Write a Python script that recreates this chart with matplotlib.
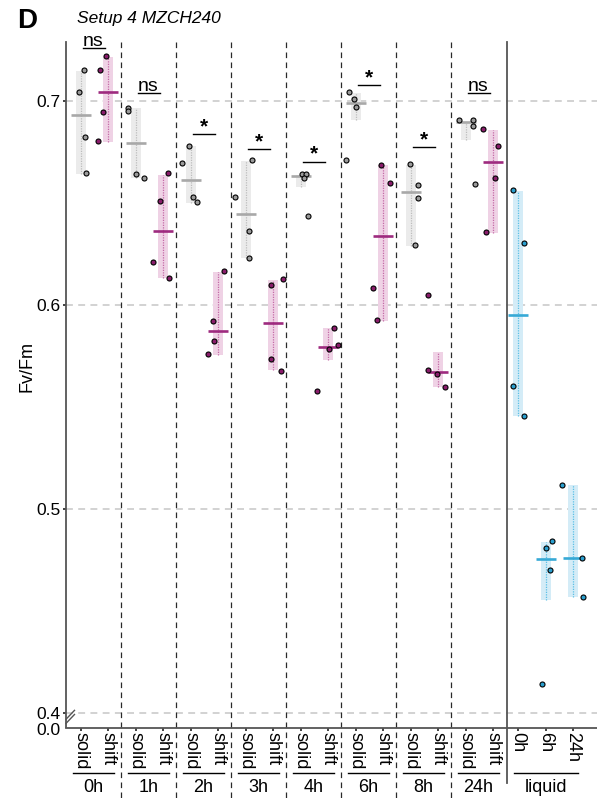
import numpy as np
import matplotlib
matplotlib.use("Agg")
import matplotlib.pyplot as plt
import matplotlib.transforms as mtrans

plt.rcParams["font.family"] = ["Liberation Sans", "DejaVu Sans"]

# data ==========================================================================
conditions = ["0h", "1h", "2h", "3h", "4h", "6h", "8h", "24h"]

solid_pts = [
    [0.7150, 0.7040, 0.6821, 0.6643],
    [0.6965, 0.6949, 0.6638, 0.6619],
    [0.6777, 0.6692, 0.6528, 0.6501],
    [0.6708, 0.6525, 0.6360, 0.6226],
    [0.6640, 0.6640, 0.6619, 0.6435],
    [0.7040, 0.7007, 0.6967, 0.6707],
    [0.6689, 0.6586, 0.6521, 0.6292],
    [0.6904, 0.6904, 0.6876, 0.6591],
]
solid_med = [0.6929, 0.6793, 0.6609, 0.6444, 0.6628, 0.6988, 0.6553, 0.6893]
solid_lo = [0.6640, 0.6619, 0.6498, 0.6226, 0.6575, 0.6904, 0.6287, 0.6806]
solid_hi = [0.7145, 0.6965, 0.6775, 0.6703, 0.6635, 0.7035, 0.6684, 0.6896]

shift_pts = [
    [0.7220, 0.7150, 0.6942, 0.6801],
    [0.6643, 0.6507, 0.6210, 0.6131],
    [0.6166, 0.5919, 0.5821, 0.5757],
    [0.6126, 0.6094, 0.5731, 0.5675],
    [0.5886, 0.5801, 0.5780, 0.5577],
    [0.6684, 0.6597, 0.6079, 0.5924],
    [0.6047, 0.5679, 0.5658, 0.5597],
    [0.6859, 0.6777, 0.6622, 0.6354],
]
shift_med = [0.7043, 0.6360, 0.5870, 0.5909, 0.5790, 0.6337, 0.5668, 0.6700]
shift_lo = [0.6798, 0.6131, 0.5752, 0.5678, 0.5728, 0.5919, 0.5597, 0.6349]
shift_hi = [0.7215, 0.6635, 0.6161, 0.6118, 0.5883, 0.6684, 0.5769, 0.6855]

liquid_times = ["0h", "6h", "24h"]
liquid_pts = [
    [0.6561, 0.6300, 0.5600, 0.5455],
    [0.4842, 0.4805, 0.4699, 0.4138],
    [0.5115, 0.4756, 0.4565],
]
liquid_med = [0.5949, 0.4752, 0.4759]
liquid_lo = [0.5455, 0.4551, 0.4565]
liquid_hi = [0.6556, 0.4837, 0.5115]

sig_labels = ["ns", "ns", "*", "*", "*", "*", "*", "ns"]
sig_y = [0.7257, 0.7037, 0.6834, 0.6762, 0.6700, 0.7076, 0.6771, 0.7035]

# horizontal jitter of the replicate dots (px)
solid_jit = [[3, -2, 4, 5], [-8, -8, 0, 8], [-2, -9, 2, 6], [6, -11, 3, 3],
             [1, 5, 3, 7], [-7, -2, 0, -10], [-1, 7, 7, 4], [-7, 7, 7, 9]]
shift_jit = [[-2, -8, -5, -10], [5, -3, -10, 6], [6, -5, -4, -10], [10, -2, -2, 8],
             [6, 10, 1, -11], [-2, 7, -10, -6], [-10, -10, -1, 7], [-10, 5, 2, -7]]
liquid_jit = [[-5, 6, -5, 6], [6, 0, 4, -4], [-11, 9, 10]]

# styling =======================================================================
GREY = dict(pt="#9b9b9b", line="#a8a8a8", band="#ebebeb", dot="#bdbdbd")
MAG = dict(pt="#8a1c6b", line="#9e2a7f", band="#efd2e5", dot="#c46aa6")
CYAN = dict(pt="#2a9fcf", line="#36a9d6", band="#d4ecf7", dot="#5cc0e6")

W = 55.0          # width of one solid/shift group
ymin, ymax = 0.39265, 0.72868

fig = plt.figure(figsize=(5.97, 7.98), dpi=100)
ax = fig.add_axes([66 / 597, 70.5 / 798, 531 / 597, 685.5 / 798])
ax.set_xlim(0, 531)
ax.set_ylim(ymin, ymax)


def draw_group(x, pts, med, lo, hi, jit, c):
    ax.fill_between([x - 5, x + 5], lo, hi, color=c["band"], lw=0, zorder=1)
    ax.plot([x, x], [lo, hi], ls=(0, (1, 1)), color=c["dot"], lw=0.9, zorder=2)
    ax.plot([x - 10, x + 10], [med, med], color=c["line"], lw=1.9,
            solid_capstyle="butt", zorder=3)
    ax.scatter(np.array(jit[:len(pts)]) + x, pts, s=13, c=c["pt"],
               edgecolors="black", linewidths=0.8, zorder=4)


# grid lines
for g in [0.4, 0.5, 0.6, 0.7]:
    ax.axhline(g, color="#c6c6c6", lw=1.1, ls=(0, (4.5, 3.5)), zorder=0)

tick_pos, tick_lab = [], []
for i, cond in enumerate(conditions):
    xs, xh = W * i + 15, W * i + 42
    draw_group(xs, solid_pts[i], solid_med[i], solid_lo[i], solid_hi[i], solid_jit[i], GREY)
    draw_group(xh, shift_pts[i], shift_med[i], shift_lo[i], shift_hi[i], shift_jit[i], MAG)
    tick_pos += [xs, xh]
    tick_lab += ["solid", "shift"]
    # significance bar
    xc = W * i + W / 2
    ax.plot([xc - 11, xc + 11], [sig_y[i]] * 2, color="black", lw=1.0, zorder=5)
    star = sig_labels[i] == "*"
    ax.annotate(sig_labels[i], (xc, sig_y[i]), xytext=(0, 1.5), textcoords="offset points",
                ha="center", va="baseline", fontsize=15 if star else 14,
                fontweight="bold" if star else "normal", annotation_clip=False)

x_liq0 = 8 * W + 1
for j, t in enumerate(liquid_times):
    xl = x_liq0 + 11 + 27.5 * j
    draw_group(xl, liquid_pts[j], liquid_med[j], liquid_lo[j], liquid_hi[j], liquid_jit[j], CYAN)
    tick_pos.append(xl)
    tick_lab.append(t)

# separators: dashed between the groups, solid in front of "liquid"
btrans = mtrans.blended_transform_factory(ax.transData, ax.transAxes)
for i in range(1, 8):
    ax.plot([W * i, W * i], [1.0, -0.105], transform=btrans, color="#2a2a2a",
            lw=0.9, ls=(0, (4.5, 3.5)), clip_on=False, zorder=0)
ax.plot([x_liq0, x_liq0], [1.0, -0.081], transform=btrans, color="#555555",
        lw=1.3, clip_on=False, zorder=0)

# axes
for s in ["top", "right"]:
    ax.spines[s].set_visible(False)
for s in ["left", "bottom"]:
    ax.spines[s].set_color("#555555")
    ax.spines[s].set_linewidth(1.3)
ax.set_yticks([0.4, 0.5, 0.6, 0.7])
ax.set_yticklabels(["0.4", "0.5", "0.6", "0.7"])
ax.tick_params(axis="y", length=2, width=1.2, pad=2, labelsize=12.5, color="#222222")
# the broken axis starts at zero: its label sits just under the break
ax.annotate("0.0", (0, ymin), xycoords=("axes fraction", "data"), xytext=(-4, -2.5),
            textcoords="offset points", ha="right", va="center", fontsize=12.5,
            annotation_clip=False)
ax.set_xticks(tick_pos)
ax.set_xticklabels(tick_lab, rotation=-90, ha="center", va="top")
ax.tick_params(axis="x", length=2, width=1.2, pad=1.5, labelsize=13, color="#222222")

# group captions below the tick labels
for i, cond in enumerate(conditions):
    xc = W * i + W / 2
    ax.plot([xc - 20.5, xc + 20.5], [-0.067, -0.067], transform=btrans, color="black",
            lw=1.0, clip_on=False)
    ax.text(xc, -0.088, cond, transform=btrans, ha="center", va="center", fontsize=13)
xc = x_liq0 + 11 + 27.5
ax.plot([xc - 32, xc + 32], [-0.067, -0.067], transform=btrans, color="black",
        lw=1.0, clip_on=False)
ax.text(xc, -0.088, "liquid", transform=btrans, ha="center", va="center", fontsize=13)

# axis break mark
for dy in (0.0, 0.006):
    ax.plot([0.0, 0.016], [0.006 + dy, 0.019 + dy], transform=ax.transAxes,
            color="#555555", lw=1.0, clip_on=False)

fig.text(27 / 597, 1 - 367 / 798, "Fv/Fm", rotation=90, ha="center", va="center",
         fontsize=13)
fig.text(77 / 597, 1 - 19 / 798, "Setup 4 MZCH240", style="italic", ha="left",
         va="center", fontsize=12.5)
fig.text(17 / 597, 1 - 21 / 798, "D", fontweight="bold", ha="left", va="center",
         fontsize=20)

fig.savefig("out.png", dpi=100)
